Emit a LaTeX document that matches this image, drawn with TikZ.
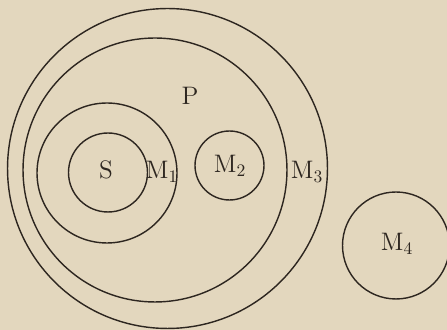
\documentclass[tikz,border=0pt]{standalone}
\usepackage{tikz}
\usetikzlibrary{positioning}
\definecolor{Cpaper}{RGB}{227, 215, 190}
\definecolor{Cink}{RGB}{45, 38, 32}
\tikzset{
    ring/.style={
        circle, draw=Cink, line width=0.8pt, inner sep=0pt
    },
    rlabel/.style={
        text=Cink, font=\Large, inner sep=1pt
    },
}
\begin{document}
\begin{tikzpicture}[x=0.02cm, y=-0.02cm]

    \fill [Cpaper] (0,0) rectangle (447,330);
    \useasboundingbox (0,0) rectangle (447,330);

    \node [ring, minimum size=6.4cm]  (m3) at (167.5,168.5) {};
    \node [ring, minimum size=5.28cm] (p)  at (155,170) {};
    \node [ring, minimum size=2.8cm]  (m1) at (107,173) {};
    \node [ring, minimum size=1.58cm] (s)  at (108,172.5) {};
    \node [ring, minimum size=1.38cm] (m2) at (229.5,165.5) {};
    \node [ring, minimum size=2.14cm] (m4) at (396,245.5) {};

    \node [rlabel] (ls)  at (106,170) {S};
    \node [rlabel] (lm1) at (162,172) {M$_1$};
    \node [rlabel] (lm2) at (230,166) {M$_2$};
    \node [rlabel] (lm3) at (307,172) {M$_3$};
    \node [rlabel] (lp)  at (190,96) {P};
    \node [rlabel] (lm4) at (397,244) {M$_4$};

\end{tikzpicture}
\end{document}
